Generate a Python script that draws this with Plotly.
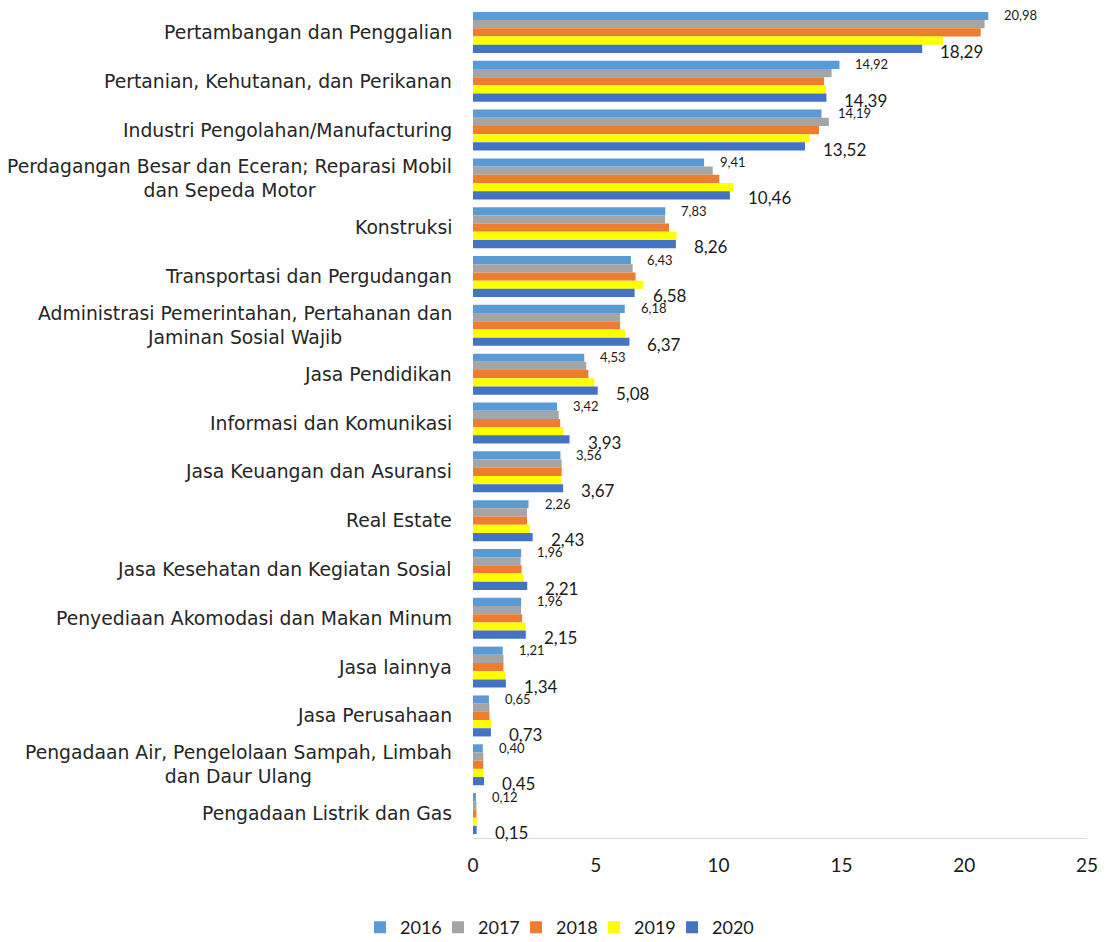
import plotly.graph_objects as go

categories = [
    "Pertambangan dan Penggalian",
    "Pertanian, Kehutanan, dan Perikanan",
    "Industri Pengolahan/Manufacturing",
    "Perdagangan Besar dan Eceran; Reparasi Mobil<br>dan Sepeda Motor",
    "Konstruksi",
    "Transportasi dan Pergudangan",
    "Administrasi Pemerintahan, Pertahanan dan<br>Jaminan Sosial Wajib",
    "Jasa Pendidikan",
    "Informasi dan Komunikasi",
    "Jasa Keuangan dan Asuransi",
    "Real Estate",
    "Jasa Kesehatan dan Kegiatan Sosial",
    "Penyediaan Akomodasi dan Makan Minum",
    "Jasa lainnya",
    "Jasa Perusahaan",
    "Pengadaan Air, Pengelolaan Sampah, Limbah<br>dan Daur Ulang",
    "Pengadaan Listrik dan Gas",
]

years = ["2016", "2017", "2018", "2019", "2020"]

v2016 = [20.98, 14.92, 14.19, 9.41, 7.83, 6.43, 6.18, 4.53, 3.42, 3.56, 2.26, 1.96, 1.96, 1.21, 0.65, 0.40, 0.12]
v2017 = [20.83, 14.60, 14.49, 9.76, 7.82, 6.50, 5.99, 4.61, 3.49, 3.61, 2.20, 1.94, 1.96, 1.24, 0.67, 0.42, 0.14]
v2018 = [20.67, 14.29, 14.09, 10.03, 7.98, 6.62, 5.99, 4.70, 3.55, 3.61, 2.20, 1.98, 2.00, 1.24, 0.67, 0.42, 0.14]
v2019 = [19.14, 14.37, 13.72, 10.60, 8.29, 6.92, 6.19, 4.94, 3.69, 3.58, 2.30, 2.06, 2.14, 1.33, 0.75, 0.43, 0.15]
v2020 = [18.29, 14.39, 13.52, 10.46, 8.26, 6.58, 6.37, 5.08, 3.93, 3.67, 2.43, 2.21, 2.15, 1.34, 0.73, 0.45, 0.15]

series = [v2016, v2017, v2018, v2019, v2020]
colors = ["#5B9BD5", "#A5A5A5", "#ED7D31", "#FFFF00", "#4472C4"]

fig = go.Figure()
for name, vals, col in zip(years, series, colors):
    fig.add_trace(go.Bar(
        y=categories, x=vals, name=name, orientation="h",
        marker=dict(color=col, line=dict(width=0)),
        hoverinfo="x+name",
    ))
# transparent spacer entry so that the last legend label is not clipped
fig.add_trace(go.Scatter(x=[None], y=[None], mode="markers", name=" ",
                         marker=dict(color="rgba(0,0,0,0)"), hoverinfo="skip"))

def fmt(v):
    return f"{v:.2f}".replace(".", ",")

annotations = []
for cat in categories:
    annotations.append(dict(
        x=0, xref="paper", y=cat, yref="y", xanchor="right", yanchor="middle",
        xshift=-19, text=cat, showarrow=False, align="center",
        font=dict(family="DejaVu Sans", size=18.8, color="#262626"),
    ))
for cat, v in zip(categories, v2016):
    annotations.append(dict(
        x=v, xref="x", y=cat, yref="y", xanchor="left", yanchor="middle",
        xshift=14, yshift=17, text=fmt(v), showarrow=False,
        font=dict(family="Lato", size=13, color="#1a1a1a"),
    ))
for cat, v in zip(categories, v2020):
    annotations.append(dict(
        x=v, xref="x", y=cat, yref="y", xanchor="left", yanchor="middle",
        xshift=16, yshift=-19, text=fmt(v), showarrow=False,
        font=dict(family="Lato", size=17, color="#1a1a1a"),
    ))

fig.update_layout(
    width=1102, height=934,
    margin=dict(l=465, r=23, t=0, b=104, autoexpand=False),
    paper_bgcolor="white", plot_bgcolor="white",
    barmode="group", bargap=0.16, bargroupgap=0,
    showlegend=True,
    legend=dict(orientation="h", x=-0.184, xanchor="left", y=-0.108, yanchor="middle",
                font=dict(family="Lato", size=18, color="#1a1a1a"),
                traceorder="normal", itemwidth=30, entrywidth=33,
                entrywidthmode="pixels", bgcolor="rgba(0,0,0,0)"),
    annotations=annotations,
)
fig.update_xaxes(range=[0, 25], dtick=5, showgrid=False, zeroline=False,
                 showline=True, linecolor="#D9D9D9", linewidth=1,
                 ticks="", ticklabelstandoff=10, automargin=False,
                 tickfont=dict(family="Lato", size=19, color="#1a1a1a"))
fig.update_yaxes(type="category", categoryorder="array", categoryarray=categories,
                 range=[len(categories) - 0.5, -0.5], autorange=False,
                 showticklabels=False, showgrid=False,
                 zeroline=False, showline=False, ticks="", automargin=False)

fig.write_html("out.html")
